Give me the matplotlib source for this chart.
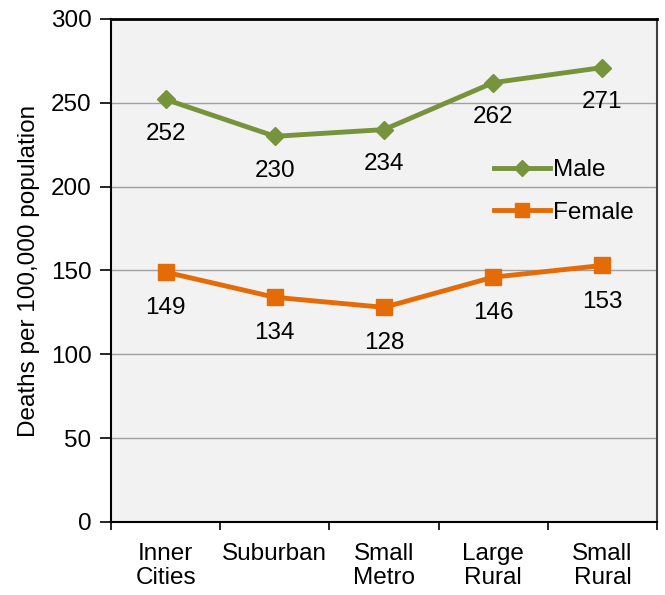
import matplotlib
matplotlib.use("Agg")
import matplotlib.pyplot as plt
import numpy as np

categories = ["Inner\nCities", "Suburban", "Small\nMetro", "Large\nRural", "Small\nRural"]
male = [252, 230, 234, 262, 271]
female = [149, 134, 128, 146, 153]
y_ticks = [0, 50, 100, 150, 200, 250, 300]

plt.rcParams["font.family"] = ["Liberation Sans", "DejaVu Sans"]
FS = 17.5

fig = plt.figure(figsize=(6.65, 5.95), dpi=100)
ax = fig.add_axes([0.167, 0.1227, 0.821, 0.8455])
ax.set_facecolor("#f2f2f2")

x = np.arange(len(categories))
ax.plot(x, male, color="#77933c", lw=3.5, marker="D", ms=9, label="Male")
ax.plot(x, female, color="#e36c09", lw=3.5, marker="s", ms=11, label="Female")

for xi, v in zip(x, male):
    ax.annotate(str(v), (xi, v), xytext=(0, -25), textcoords="offset points",
                ha="center", va="center", fontsize=FS)
for xi, v in zip(x, female):
    ax.annotate(str(v), (xi, v), xytext=(0, -26), textcoords="offset points",
                ha="center", va="center", fontsize=FS)

ax.set_xlim(-0.5, len(categories) - 0.5)
ax.set_ylim(0, 300)
ax.set_yticks(y_ticks)
ax.tick_params(axis="y", labelsize=FS, length=8, width=1.2, direction="out", pad=6)
ax.set_xticks(x)
ax.set_xticklabels(categories, linespacing=1.15)
ax.set_xticks(np.arange(len(categories) + 1) - 0.5, minor=True)
ax.tick_params(axis="x", which="major", length=0, labelsize=FS, pad=15)
ax.tick_params(axis="x", which="minor", length=6, width=1.2, direction="out")
ax.yaxis.grid(True, color="#a0a0a0", lw=1)
ax.set_axisbelow(True)

ax.spines["left"].set_linewidth(1.5)
ax.spines["bottom"].set_linewidth(1.5)
ax.spines["top"].set_linewidth(2)
ax.spines["right"].set_color("#404040")
ax.spines["right"].set_linewidth(1.5)

ax.set_ylabel("Deaths per 100,000 population", fontsize=FS, labelpad=8)

leg = ax.legend(loc="upper right", bbox_to_anchor=(0.998, 0.765), frameon=False,
                fontsize=FS, handlelength=2.3, labelspacing=0.85, handletextpad=0.15,
                markerscale=0.95)

fig.savefig("out.png", dpi=100)
